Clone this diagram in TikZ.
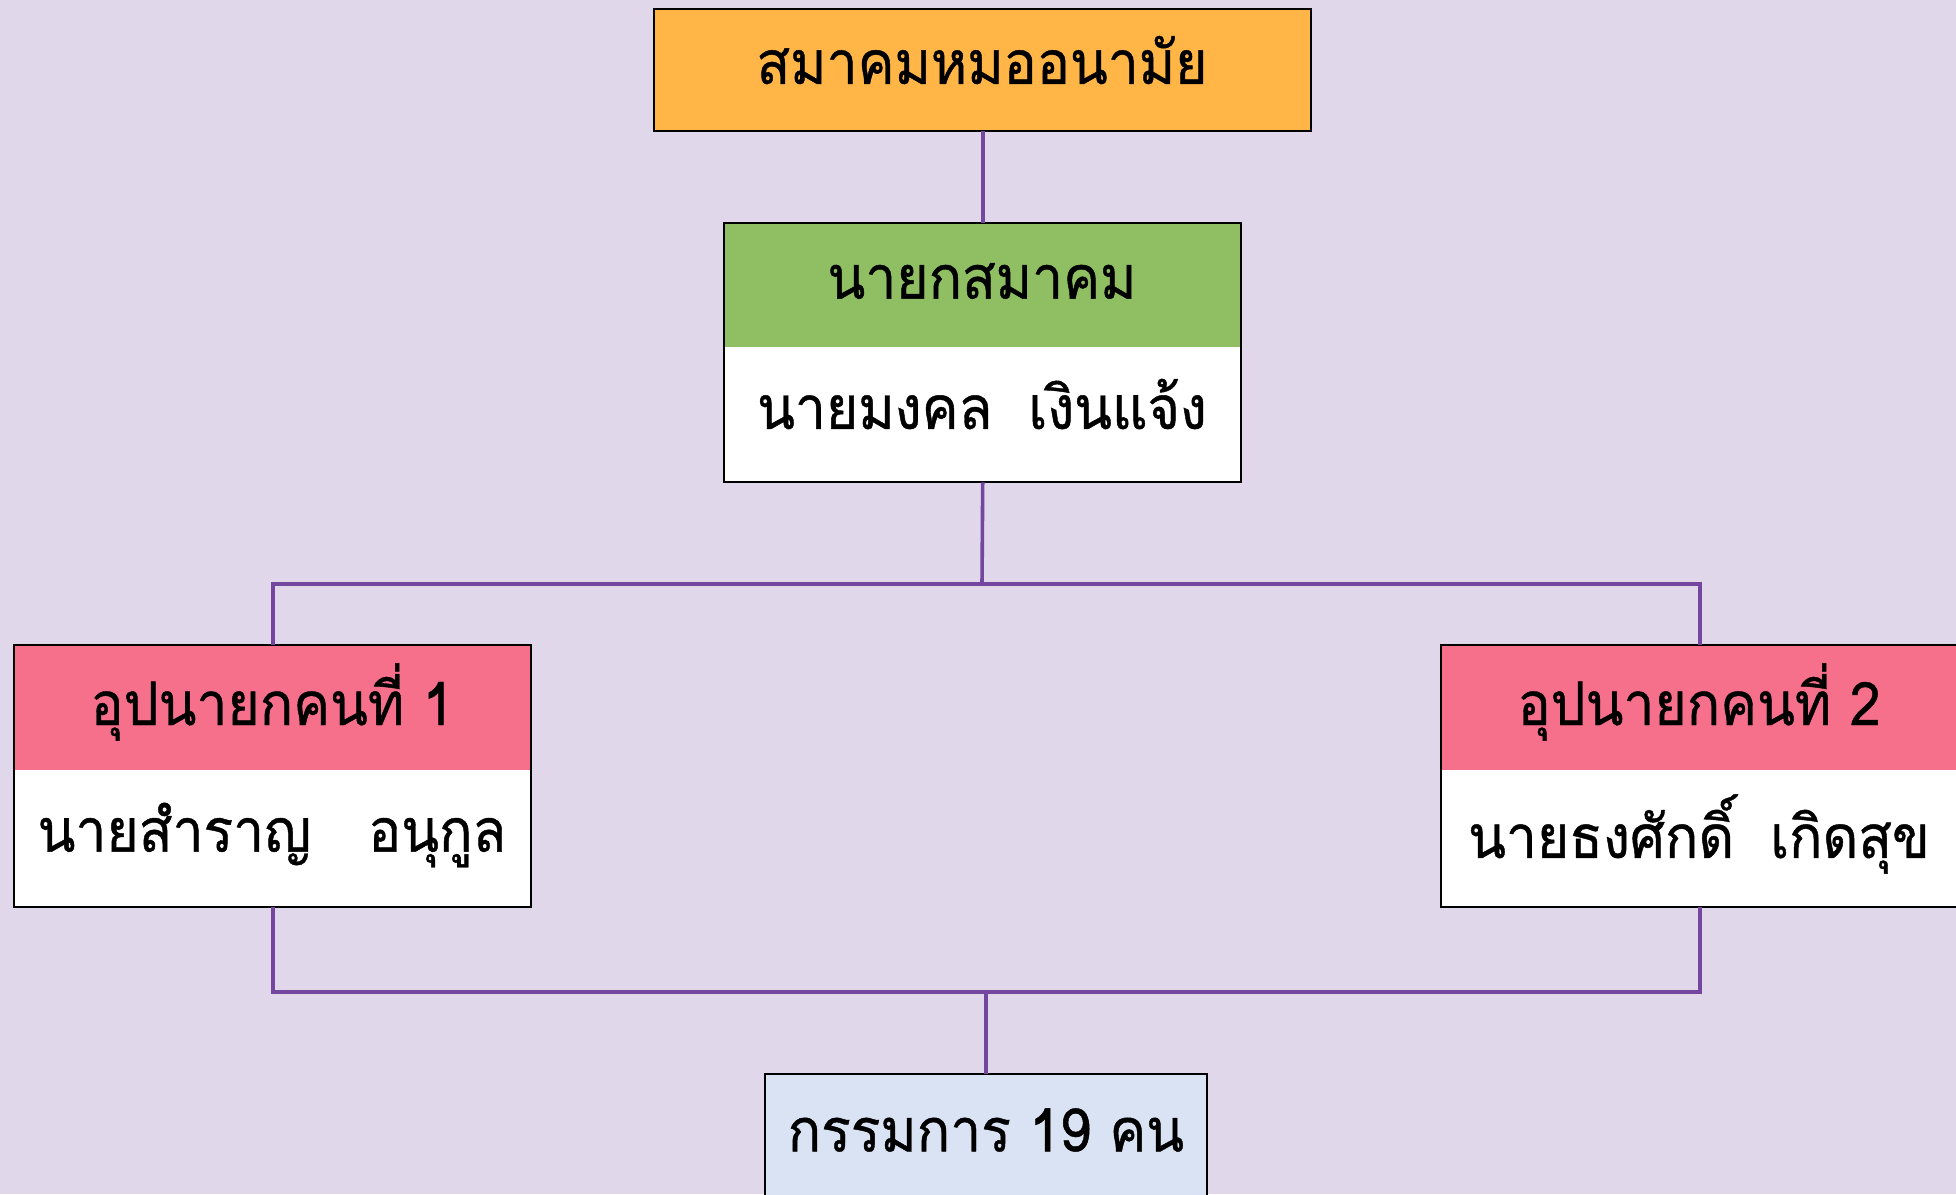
\documentclass[tikz,border=0pt]{standalone}
\usepackage{fontspec}
\newfontfamily\thaifont[Script=Thai, FakeStretch=0.92, FakeBold=0.7]{Loma}
\definecolor{bg}{HTML}{E0D7EA}
\definecolor{orangebox}{HTML}{FFB646}
\definecolor{greenbox}{HTML}{8FBF62}
\definecolor{pinkbox}{HTML}{F6708C}
\definecolor{bluebox}{HTML}{DAE3F3}
\definecolor{conncol}{HTML}{7446A0}
\tikzset{
  txt/.style={font=\thaifont\fontsize{60}{64}\selectfont, text=black, inner sep=0pt},
  part/.style={rectangle, anchor=north west, inner sep=0pt},
  frame/.style={draw=black, line width=2pt},
  conn/.style={draw=conncol, line width=3.6pt},
}
\begin{document}
\begin{tikzpicture}[x=1pt,y=-1pt]
\clip (0,0) rectangle (1956,1194);
\fill[bg] (0,0) rectangle (1956,1194);

% top
\node[part, fill=orangebox, minimum width=657pt, minimum height=122pt] (top) at (654,9) {};
\node[txt] (topT) at (982,60) {สมาคมหมออนามัย};
\draw[frame] (top.north west) rectangle (top.south east);

% president
\node[part, fill=greenbox, minimum width=517pt, minimum height=124pt] (presH) at (724,223) {};
\node[part, fill=white, minimum width=517pt, minimum height=135pt] (presB) at (724,347) {};
\node[txt] (presHT) at (982,281) {นายกสมาคม};
\node[txt] (presBT) at (982,404) {นายมงคล\hspace{0.6em}เงินแจ้ง};
\draw[frame] (presH.north west) rectangle (presB.south east);

% vice 1
\node[part, fill=pinkbox, minimum width=517pt, minimum height=125pt] (v1H) at (14,645) {};
\node[part, fill=white, minimum width=517pt, minimum height=137pt] (v1B) at (14,770) {};
\node[txt] (v1HT) at (272,702) {อุปนายกคนที่ 1};
\node[txt] (v1BT) at (272,835) {นายสำราญ\hspace{0.95em}อนุกูล};
\draw[frame] (v1H.north west) rectangle (v1B.south east);

% vice 2
\node[part, fill=pinkbox, minimum width=517pt, minimum height=125pt] (v2H) at (1441,645) {};
\node[part, fill=white, minimum width=517pt, minimum height=137pt] (v2B) at (1441,770) {};
\node[txt] (v2HT) at (1699,702) {อุปนายกคนที่ 2};
\node[txt] (v2BT) at (1699,834) {นายธงศักดิ์\hspace{0.6em}เกิดสุข};
\draw[frame] (v2H.north west) rectangle (v2B.south east);

% committee
\node[part, fill=bluebox, minimum width=442pt, minimum height=140pt] (com) at (765,1074) {};
\node[txt] (comT) at (986,1130) {กรรมการ 19 คน};
\draw[frame] (com.north west) rectangle (com.south east);

% connectors
\coordinate (j1) at (982,584);
\coordinate (j2) at (985,992);
\draw[conn] (top.south) -- (presH.north);
\draw[conn] (presB.south) -- (j1);
\draw[conn] (v1H.north) -- (v1H.north |- j1) -- (v2H.north |- j1) -- (v2H.north);
\draw[conn] (v1B.south) -- (v1B.south |- j2) -- (v2B.south |- j2) -- (v2B.south);
\draw[conn] (com.north |- j2) -- (com.north);
\end{tikzpicture}
\end{document}
